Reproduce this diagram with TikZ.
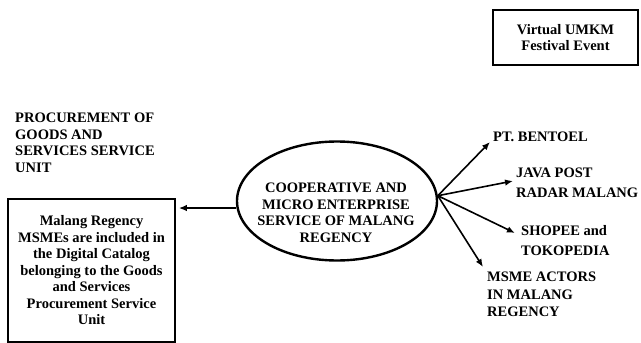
\documentclass[tikz,border=0pt]{standalone}
\usepackage{fontspec}
\setmainfont{Liberation Serif}
\usetikzlibrary{shapes.geometric,arrows.meta}
\begin{document}
\begin{tikzpicture}[x=1pt,y=-1pt,
  txt/.style={font=\fontsize{14.5}{16.5}\selectfont\bfseries, inner sep=0pt},
  arr/.style={line width=1.6pt, -{Latex[length=8pt,width=6.5pt]}},
  box/.style={draw, line width=1.6pt}]
\useasboundingbox (0,0) rectangle (641,343);
\fill[white] (0,0) rectangle (641,343);
% top right box
\node[box, txt, minimum width=145, minimum height=55, align=center] (vue) at (565.5,37.5) {Virtual UMKM\\Festival Event};
% left label
\node[txt, anchor=north west, align=left] (pgs) at (15,113) {PROCUREMENT OF\\GOODS AND\\SERVICES SERVICE\\UNIT};
% left box
\node[box, txt, minimum width=167, minimum height=143, align=center] (cat) at (91.5,270.5) {Malang Regency\\MSMEs are included in\\the Digital Catalog\\belonging to the Goods\\and Services\\Procurement Service\\Unit};
% ellipse
\node[draw, ellipse, line width=2.4pt, minimum width=200, minimum height=119, inner sep=0pt] (ell) at (337,201) {};
\node[txt, align=center, anchor=north] (elltxt) at (336,183) {COOPERATIVE AND\\MICRO ENTERPRISE\\SERVICE OF MALANG\\REGENCY};
% right labels
\node[txt, anchor=north west] (bentoel) at (493,132) {PT. BENTOEL};
\node[txt, anchor=north west, align=left, font=\fontsize{14.5}{20}\selectfont\bfseries] (java) at (516,168) {JAVA POST\\RADAR MALANG};
\node[txt, anchor=north west, align=left, font=\fontsize{14.5}{20}\selectfont\bfseries] (shopee) at (521,225) {SHOPEE and\\TOKOPEDIA};
\node[txt, anchor=north west, align=left, font=\fontsize{14.5}{17.5}\selectfont\bfseries] (msme) at (487,272) {MSME ACTORS\\IN MALANG\\REGENCY};
% arrow tips
\coordinate (t1) at (490,142);
\coordinate (t2) at (513,181);
\coordinate (t3) at (515,233);
\coordinate (t4) at (483,267);
\coordinate (src) at (ell.3);
\draw[arr] (src) -- (t1);
\draw[arr] (src) -- (t2);
\draw[arr] (src) -- (t3);
\draw[arr] (src) -- (t4);
\draw[arr, shorten >=3pt] (ell.184) -- (ell.184 -| cat.east);
\end{tikzpicture}
\end{document}
